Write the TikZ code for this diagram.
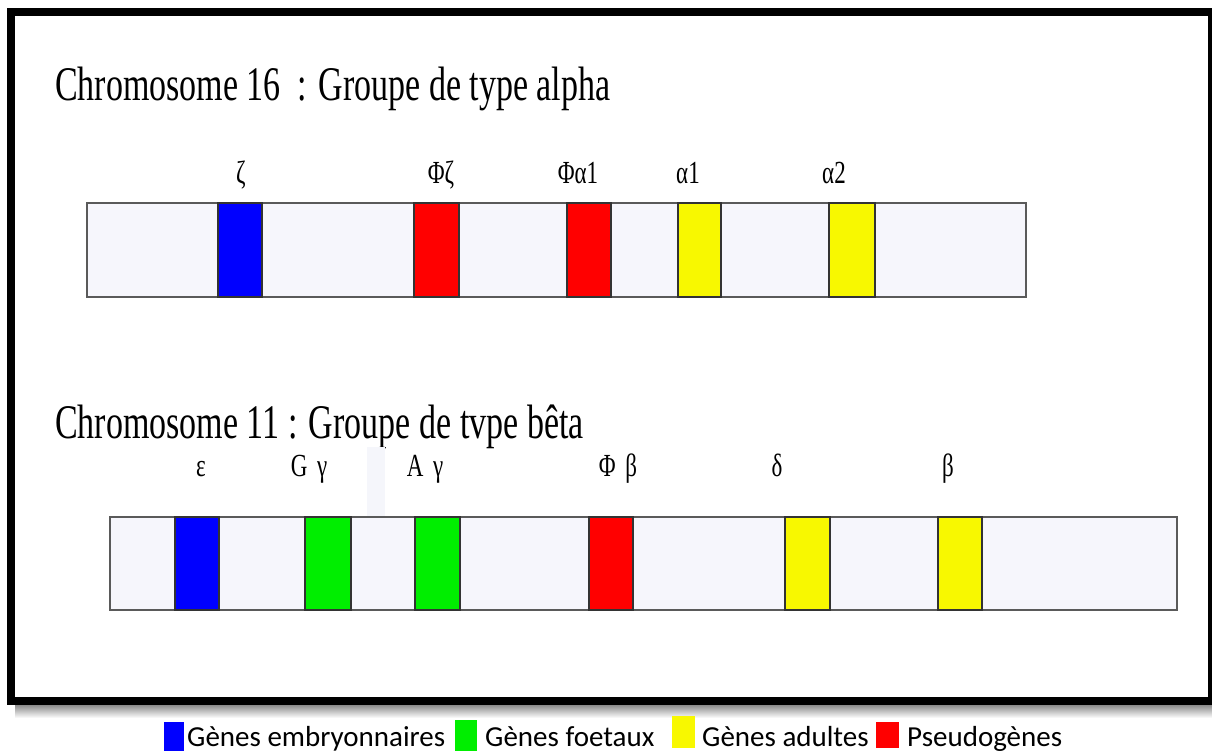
\documentclass[tikz,border=0pt]{standalone}
\usepackage{fontspec}
\setmainfont{Liberation Serif}
\newfontfamily\legendfont{Carlito}
\definecolor{barfill}{HTML}{F6F6FC}
\definecolor{barline}{HTML}{5A5A5A}
\definecolor{genblue}{HTML}{0000FF}
\definecolor{genred}{HTML}{FF0000}
\definecolor{genyellow}{HTML}{F8F800}
\definecolor{gengreen}{HTML}{00EE00}
\definecolor{haze}{HTML}{F5F6FB}
\begin{document}
\begin{tikzpicture}[x=1pt,y=-1pt,
  chrom/.style={fill=barfill,draw=barline,line width=1.6pt},
  gene/.style={draw=black!80,line width=1.2pt},
  title/.style={anchor=base west,inner sep=0pt,font=\fontsize{34}{40}\selectfont},
  glabel/.style={anchor=base,inner sep=0pt,font=\fontsize{23}{27}\selectfont},
  legtext/.style={anchor=base west,inner sep=0pt,font=\legendfont\fontsize{29}{34}\selectfont},
  legbox/.style={inner sep=0pt}]
\useasboundingbox (0,0) rectangle (1212,751);
\fill[white] (0,0) rectangle (1212,751);

% shadow under the frame
\shade[top color=black!45,bottom color=white] (15,705) rectangle (1212,718);
% frame
\draw[line width=8pt] (11,12) rectangle (1212,701);

% titles
\node[title] (t16) at (55,101) {\scalebox{1}[1.42]{Chromosome 16\ \ : Groupe de type alpha}};
\node[title] (t11) at (55,438) {\scalebox{1}[1.42]{Chromosome 11 : Groupe de tvpe bêta}};

% chromosome 16
\path[chrom] (87,203) rectangle (1026,297);
\path[gene,fill=genblue]   (218,203) rectangle (262,297);
\path[gene,fill=genred]    (414,203) rectangle (459,297);
\path[gene,fill=genred]    (567,203) rectangle (611,297);
\path[gene,fill=genyellow] (678,203) rectangle (721,297);
\path[gene,fill=genyellow] (829,203) rectangle (875,297);

\node[glabel] (zeta)   at (241,184) {\scalebox{1}[1.4]{ζ}};
\node[glabel] (pzeta)  at (441,184) {\scalebox{1}[1.4]{Φζ}};
\node[glabel] (pa1)    at (578,184) {\scalebox{1}[1.4]{Φα1}};
\node[glabel] (a1)     at (688,184) {\scalebox{1}[1.4]{α1}};
\node[glabel] (a2)     at (834,184) {\scalebox{1}[1.4]{α2}};

% chromosome 11
\fill[haze] (367,447) rectangle (385,517);
\path[chrom] (110,517) rectangle (1177,610);
\path[gene,fill=genblue]   (175,517) rectangle (219,610);
\path[gene,fill=gengreen]  (305,517) rectangle (351,610);
\path[gene,fill=gengreen]  (415,517) rectangle (460,610);
\path[gene,fill=genred]    (589,517) rectangle (633,610);
\path[gene,fill=genyellow] (785,517) rectangle (830,610);
\path[gene,fill=genyellow] (938,517) rectangle (982,610);

\node[glabel] (eps)  at (201,476) {\scalebox{1}[1.4]{ε}};
\node[glabel] (gg)   at (309,476) {\scalebox{1}[1.4]{G\ \,γ}};
\node[glabel] (ag)   at (425,476) {\scalebox{1}[1.4]{A\ \,γ}};
\node[glabel] (pb)   at (618,476) {\scalebox{1}[1.4]{Φ\ \,β}};
\node[glabel] (del)  at (777,476) {\scalebox{1}[1.4]{δ}};
\node[glabel] (bet)  at (948,476) {\scalebox{1}[1.4]{β}};

% legend
\fill[genblue]   (164,722) rectangle (184,751);
\fill[gengreen]  (455,720) rectangle (477,751);
\fill[genyellow] (672,716) rectangle (695,748);
\fill[genred]    (876,722) rectangle (899,748);
\node[legtext] (l1) at (187,746) {Gènes embryonnaires};
\node[legtext] (l2) at (485,746) {Gènes foetaux};
\node[legtext] (l3) at (702,746) {Gènes adultes};
\node[legtext] (l4) at (907,746) {Pseudogènes};
\end{tikzpicture}
\end{document}
